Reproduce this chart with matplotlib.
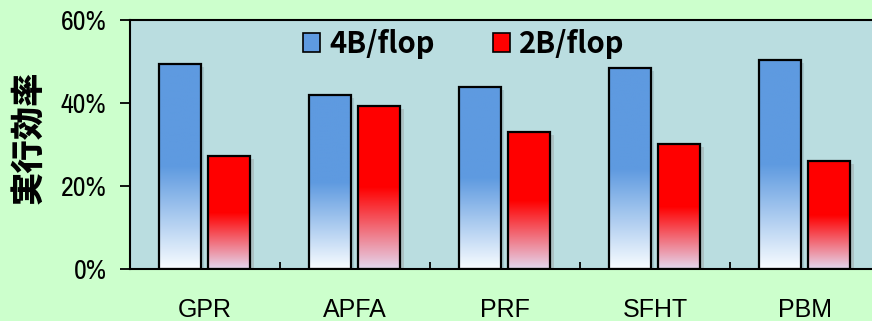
import numpy as np
import matplotlib
matplotlib.use("Agg")
import matplotlib.pyplot as plt
from matplotlib.patches import Rectangle
from matplotlib import patheffects as pe
from matplotlib.colors import to_rgb

categories = ["GPR", "APFA", "PRF", "SFHT", "PBM"]
series_names = ["4B/flop", "2B/flop"]
eff_4b = [49.4, 41.9, 43.9, 48.4, 50.4]
eff_2b = [27.2, 39.3, 33.0, 30.1, 26.0]
yticks = [0, 20, 40, 60]
ytick_labels = ["0%", "20%", "40%", "60%"]
ylabel = "実行効率"

W, H = 872, 321
fig = plt.figure(figsize=(W / 100, H / 100), dpi=100)
fig.patch.set_facecolor("#CCFFCC")
ax = fig.add_axes([130 / W, 52 / H, 750 / W, 249 / H])
ax.set_facecolor("#BADDE0")

narrow_font = ["Liberation Sans Narrow", "Archivo Narrow", "Liberation Sans", "DejaVu Sans"]
x_font = ["Liberation Sans", "DejaVu Sans"]

x = np.arange(len(categories))
bw = 0.28
offsets = [-0.167, 0.163]
tops = [("#5E9AE0", "#F8FCFF"), ("#FF0000", "#E4D6EE")]

for vals, off, (ctop, cbot) in zip([eff_4b, eff_2b], offsets, tops):
    bars = ax.bar(x + off, vals, bw, color=ctop, edgecolor="none", zorder=2,
                  path_effects=[pe.SimplePatchShadow(offset=(2.5, -2.0), alpha=0.12, rho=0.3), pe.Normal()])
    ct = np.array(to_rgb(ctop))
    cb = np.array(to_rgb(cbot))
    for b in bars:
        h = b.get_height()
        n = 200
        f = np.linspace(0, 1, n)
        t = np.clip(f / 0.5, 0, 1)[:, None]
        img = (cb + (ct - cb) * t)[:, None, :]
        im = ax.imshow(img, extent=[b.get_x(), b.get_x() + b.get_width(), 0, h],
                       origin="lower", aspect="auto", zorder=2.5, interpolation="bilinear")
        im.set_clip_path(b)
    ax.bar(x + off, vals, bw, color="none", edgecolor="black", linewidth=1.6, zorder=3)

ax.set_xlim(-0.5, len(categories) - 0.5)
ax.set_ylim(0, 60)
ax.set_yticks(yticks)
ax.set_yticklabels(ytick_labels, fontsize=20, family=narrow_font)
ax.tick_params(axis="y", direction="out", length=7, width=1.3, pad=10)
ax.set_xticks(x)
ax.set_xticklabels(categories, fontsize=18, family=x_font)
ax.tick_params(axis="x", which="major", length=0, pad=21)
ax.set_xticks(np.arange(-0.5, len(categories), 1), minor=True)
ax.tick_params(axis="x", which="minor", direction="in", length=5, width=1.3)
for s in ["left", "bottom", "top", "right"]:
    ax.spines[s].set_linewidth(1.5)
    ax.spines[s].set_color("black")

fig.text(28 / W, 1 - 137 / H, ylabel, rotation=90, ha="center", va="center",
         fontsize=24, fontweight="heavy", family=["Noto Sans CJK JP", "DejaVu Sans"])

handles = [Rectangle((0, 0), 1, 1, facecolor=c[0], edgecolor="black", linewidth=1.2) for c in tops]
leg = ax.legend(handles, series_names, ncol=2, frameon=False,
                loc="center", bbox_to_anchor=(0.445, 0.905), handlelength=0.6, handleheight=0.6,
                handletextpad=0.3, columnspacing=2.0,
                prop={"family": ["Noto Sans CJK JP", "DejaVu Sans"], "weight": "bold", "size": 21})

fig.savefig("out.png", dpi=100, facecolor=fig.get_facecolor())
